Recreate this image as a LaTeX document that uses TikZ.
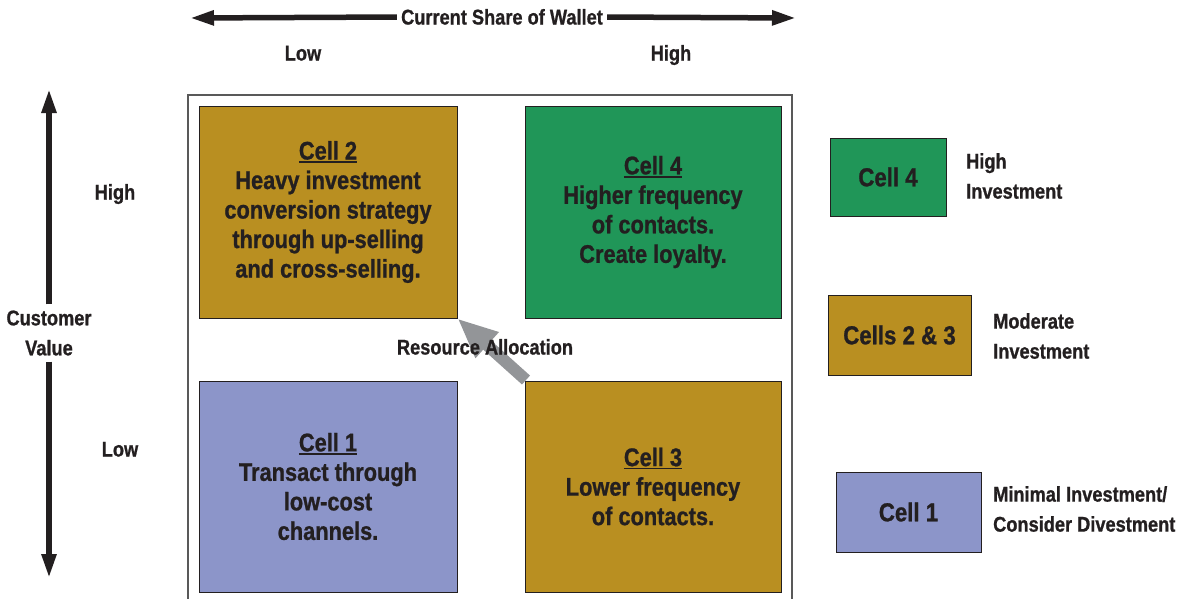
\documentclass[tikz,border=0pt]{standalone}
\usepackage{fontspec}
\setmainfont{Liberation Sans}[FakeStretch=0.855, BoldFeatures={FakeBold=0.9}]
\usetikzlibrary{arrows.meta}
\definecolor{gold}{RGB}{185,143,33}
\definecolor{cgreen}{RGB}{32,150,88}
\definecolor{cblue}{RGB}{140,149,201}
\definecolor{ink}{RGB}{35,31,32}
\definecolor{agray}{RGB}{147,149,152}
\newcommand{\cellul}[1]{\setbox0\hbox{#1}\rlap{\color{ink}\rule[-3.2pt]{\wd0}{1.8pt}}\box0}
\begin{document}
\begin{tikzpicture}[x=1pt,y=-1pt,
  every node/.style={text=ink, font=\bfseries},
  small/.style={font=\fontsize{21.3}{30}\selectfont\bfseries, inner sep=0pt},
  lbl/.style={small, text height=15pt, text depth=0pt},
  cellbox/.style={draw=ink, line width=0.9pt, align=center, inner sep=2pt,
    font=\fontsize{25.5}{29.5}\selectfont\bfseries},
  legbox/.style={draw=ink, line width=0.9pt, align=center,
    font=\fontsize{26}{30}\selectfont\bfseries},
  axisarrow/.style={line width=5.5pt, draw=ink, -{Triangle[length=24pt,width=14pt]}},
  resarrow/.style={line width=12pt, draw=agray, -{Triangle[length=40pt,width=32pt]}}
]
\useasboundingbox (0,0) rectangle (1177,598);
\clip (0,0) rectangle (1177,598);

% outer frame
\draw[draw=black!65, line width=1.3pt] (188,95) rectangle (792,650);

% cells
\node[cellbox, fill=gold, minimum width=258pt, minimum height=212pt] (c2) at (328,212)
  {\cellul{Cell 2}\\Heavy investment\\conversion strategy\\through up-selling\\and cross-selling.};
\node[cellbox, fill=cgreen, minimum width=256pt, minimum height=212pt] (c4) at (653,212)
  {\cellul{Cell 4}\\Higher frequency\\of contacts.\\Create loyalty.};
\node[cellbox, fill=cblue, minimum width=258pt, minimum height=211pt] (c1) at (328,486.5)
  {\cellul{Cell 1}\\Transact through\\low-cost\\channels.};
\node[cellbox, fill=gold, minimum width=256pt, minimum height=211pt] (c3) at (653,486.5)
  {\cellul{Cell 3}\\Lower frequency\\of contacts.};

% resource allocation arrow and label
\coordinate (ga) at (526,380);
\draw[resarrow] (ga) -- (c2.south east);
\node[lbl] (ra) at (485,347) {Resource Allocation};

% top axis
\node[lbl, inner xsep=4pt] (cur) at (502,17) {Current Share of Wallet};
\coordinate (tl) at (190,18);
\coordinate (tr) at (796,18);
\draw[axisarrow] (cur.west) -- (tl);
\draw[axisarrow] (cur.east) -- (tr);
\node[lbl] (lowx) at (303,53) {Low};
\node[lbl] (highx) at (671,53) {High};

% left axis
\node[small, align=center, inner ysep=6pt] (cv) at (49,333) {Customer\\Value};
\coordinate (vt) at (49,89);
\coordinate (vb) at (49,578);
\draw[axisarrow] (cv.north) -- (vt);
\draw[axisarrow] (cv.south) -- (vb);
\node[lbl] (highy) at (115,192) {High};
\node[lbl] (lowy) at (120,449) {Low};

% legend
\node[legbox, fill=cgreen, minimum width=116pt, minimum height=78pt] (l4) at (888,177) {Cell 4};
\node[legbox, fill=gold, minimum width=143pt, minimum height=80pt] (l23) at (899.5,335) {Cells 2 \& 3};
\node[legbox, fill=cblue, minimum width=145pt, minimum height=80pt] (l1) at (908.5,512) {Cell 1};
\node[small, align=left, anchor=west] (t4) at (966,176) {High\\Investment};
\node[small, align=left, anchor=west] (t23) at (993,336) {Moderate\\Investment};
\node[small, align=left, anchor=west] (t1) at (993,509) {Minimal Investment/\\Consider Divestment};
\end{tikzpicture}
\end{document}
